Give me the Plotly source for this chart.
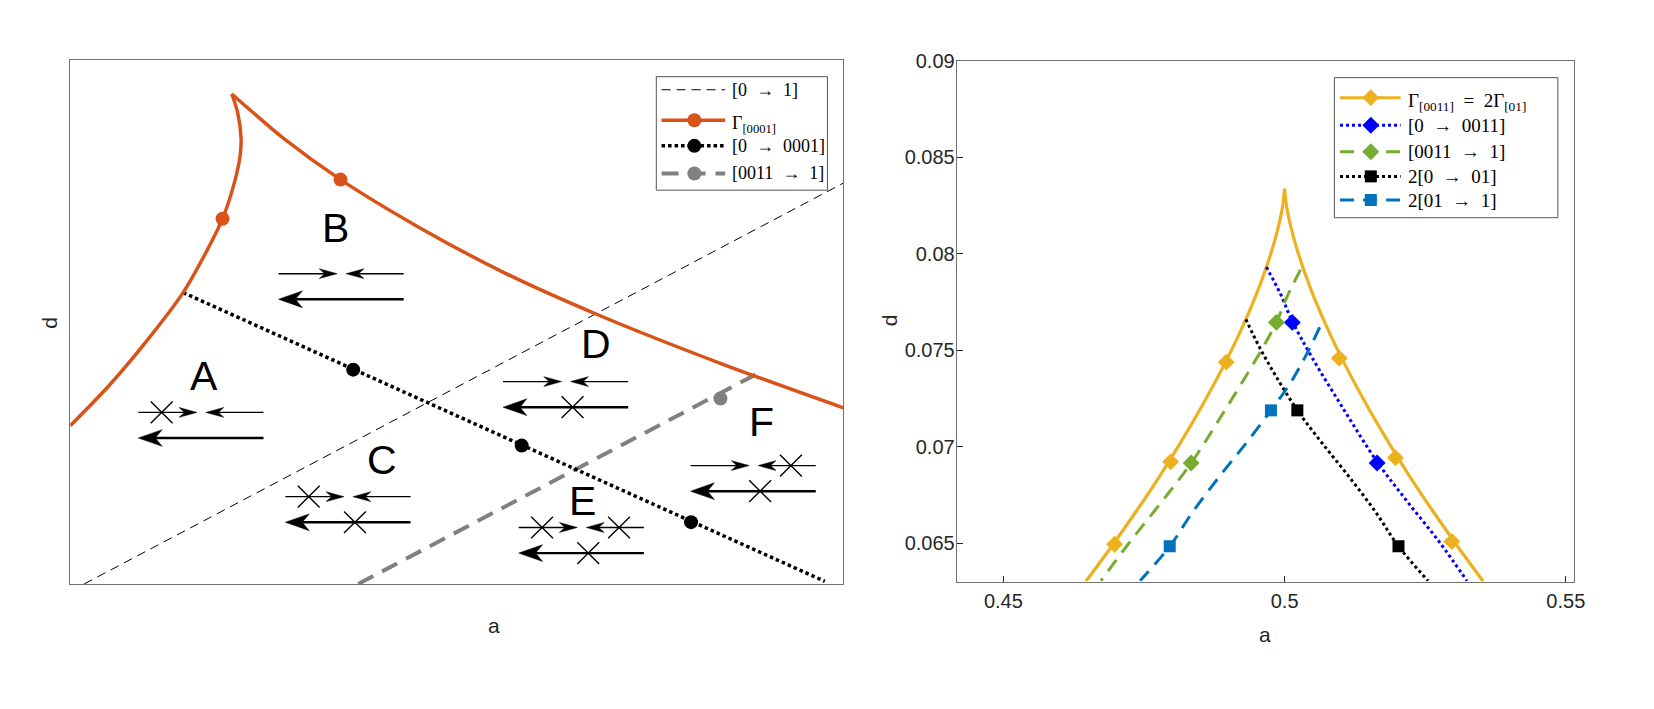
import plotly.graph_objects as go

W, H = 1654, 709

# ---------------- Left panel (schematic, unitless a-d plane) ----------------
gamma0001_left_a = [0.000, 0.050, 0.100, 0.146, 0.175, 0.197, 0.212, 0.2195, 0.221, 0.2165, 0.209]
gamma0001_left_d = [0.302, 0.3783, 0.4658, 0.556, 0.631, 0.697, 0.764, 0.815, 0.850, 0.900, 0.935]
gamma0001_right_a = [0.209, 0.2345, 0.2751, 0.3496, 0.4513, 0.5597, 0.6816, 0.8443, 1.000]
gamma0001_right_d = [0.935, 0.902, 0.8512, 0.7716, 0.6804, 0.5952, 0.5142, 0.4191, 0.336]
gamma0001_mark_a = [0.197, 0.3496]
gamma0001_mark_d = [0.697, 0.7716]

het_0_1_a = [0.018, 1.000]
het_0_1_d = [0.000, 0.765]

het_0_0001_a = [0.146, 0.976]
het_0_0001_d = [0.556, 0.005]
het_0_0001_mark_a = [0.366, 0.584, 0.803]
het_0_0001_mark_d = [0.409, 0.264, 0.118]

het_0011_1_a = [0.3725, 0.887]
het_0011_1_d = [0.000, 0.400]
het_0011_1_mark_a = [0.841]
het_0011_1_mark_d = [0.354]

region_names = ["A", "B", "C", "D", "E", "F"]
region_label_a = [0.171, 0.3402, 0.401, 0.6775, 0.660, 0.891]
region_label_d = [0.3876, 0.6693, 0.2278, 0.4479, 0.1494, 0.2989]
region_diag_a = [0.0881, 0.2694, 0.2783, 0.5598, 0.5801, 0.8024]
region_diag_d = [0.3274, 0.5921, 0.1666, 0.3862, 0.1078, 0.2259]
cross_top_left = [1, 0, 1, 0, 1, 0]
cross_top_right = [0, 0, 0, 0, 1, 1]
cross_bottom = [0, 0, 1, 1, 1, 1]

left_legend_labels = ["[0\u2002→\u20021]", "Γ<sub>[0001]</sub>", "[0\u2002→\u20020001]",
                      "[0011\u2002→\u20021]"]

# ---------------- Right panel ----------------
g0011_left_a = [0.46470, 0.46911, 0.47353, 0.47794, 0.48235, 0.48588, 0.48941, 0.49206,
                0.49471, 0.49647, 0.49788, 0.49894, 0.49965, 0.50000]
g0011_left_d = [0.06302, 0.06477, 0.06661, 0.06854, 0.07062, 0.07240, 0.07433, 0.07592,
                0.07770, 0.07906, 0.08032, 0.08146, 0.08246, 0.08338]
g0011_right_a = [0.50000, 0.50035, 0.50106, 0.50212, 0.50353, 0.50529, 0.50794, 0.51059,
                 0.51412, 0.51765, 0.52206, 0.52647, 0.53089, 0.53530]
g0011_right_d = [0.08338, 0.08246, 0.08146, 0.08032, 0.07906, 0.07770, 0.07592, 0.07433,
                 0.07240, 0.07062, 0.06854, 0.06661, 0.06477, 0.06302]
g0011_mark_a = [0.46977, 0.47974, 0.48962, 0.50972, 0.51970, 0.52974]
g0011_mark_d = [0.06494, 0.06921, 0.07438, 0.07458, 0.06942, 0.06508]

h_0_0011_a = [0.49675, 0.49919, 0.50137, 0.50486, 0.51053, 0.51645, 0.52187, 0.52755, 0.53241]
h_0_0011_d = [0.07931, 0.07796, 0.07650, 0.07463, 0.07192, 0.06921, 0.06713, 0.06504, 0.06304]
h_0_0011_mark_a = [0.50137, 0.51645]
h_0_0011_mark_d = [0.07644, 0.06915]

h_0011_1_a = [0.50283, 0.50040, 0.49854, 0.49513, 0.48946, 0.48338, 0.47812, 0.47245, 0.46734]
h_0011_1_d = [0.07917, 0.07775, 0.07644, 0.07463, 0.07192, 0.06915, 0.06713, 0.06504, 0.06304]
h_0011_1_mark_a = [0.49854, 0.48338]
h_0011_1_mark_d = [0.07644, 0.06915]

h2_0_01_a = [0.49311, 0.49554, 0.49838, 0.50227, 0.50648, 0.51134, 0.51620, 0.52025, 0.52552]
h2_0_01_d = [0.07660, 0.07515, 0.07369, 0.07188, 0.07025, 0.06848, 0.06660, 0.06483, 0.06304]
h2_0_01_mark_a = [0.50227, 0.52025]
h2_0_01_mark_d = [0.07188, 0.06483]

h2_01_1_a = [0.50624, 0.50380, 0.50097, 0.49757, 0.49335, 0.48849, 0.48363, 0.47958, 0.47431]
h2_01_1_d = [0.07619, 0.07473, 0.07327, 0.07188, 0.07025, 0.06848, 0.06660, 0.06483, 0.06304]
h2_01_1_mark_a = [0.49757, 0.47958]
h2_01_1_mark_d = [0.07188, 0.06483]

right_x_ticks = [0.45, 0.50, 0.55]
right_x_ticktext = ["0.45", "0.5", "0.55"]
right_y_ticks = [0.065, 0.070, 0.075, 0.080, 0.085, 0.090]
right_y_ticktext = ["0.065", "0.07", "0.075", "0.08", "0.085", "0.09"]
right_legend_labels = ["Γ<sub>[0011]</sub>\u2002=\u20022Γ<sub>[01]</sub>", "[0\u2002→\u20020011]",
                       "[0011\u2002→\u20021]", "2[0\u2002→\u200201]", "2[01\u2002→\u20021]"]

# ---------------- colours / styles ----------------
ORANGE = "#D95319"
YELLOW = "#EDB120"
BLUE = "#0000FF"
GREEN = "#77AC30"
LBLUE = "#0072BD"
GRAY = "#808080"
BLACK = "#000000"
AXC = "#707070"
TXT = "#262626"
SANS = "Liberation Sans, Arial, sans-serif"
SERIF = "Liberation Serif, Times New Roman, serif"

XD_L = [70.7 / W, 849.0 / W]
YD_L = [1 - 582.0 / H, 1 - 49.7 / H]
XR_L = [0.0, 1.0]
YR_L = [0.0, 1.0]
XD_R = [963.1 / W, 1584.8 / W]
YD_R = [1 - 579.6 / H, 1 - 50.7 / H]
XR_R = [0.4417, 0.5515]
YR_R = [0.0630, 0.0900]

fig = go.Figure()

def add(x, y, xa="x", ya="y", **kw):
    fig.add_trace(go.Scatter(x=x, y=y, xaxis=xa, yaxis=ya, showlegend=False,
                             hoverinfo="skip", **kw))

# ---- left panel curves ----
add(het_0_1_a, het_0_1_d, mode="lines", line=dict(color=BLACK, width=1, dash="9px,6px"))
add(het_0011_1_a, het_0011_1_d, mode="lines", line=dict(color=GRAY, width=4, dash="17px,10px"))
add(het_0011_1_mark_a, het_0011_1_mark_d, mode="markers", marker=dict(color=GRAY, size=14))
add(het_0_0001_a, het_0_0001_d, mode="lines", line=dict(color=BLACK, width=3.5, dash="3.5px,3px"))
add(het_0_0001_mark_a, het_0_0001_mark_d, mode="markers", marker=dict(color=BLACK, size=14))
add(gamma0001_left_a, gamma0001_left_d, mode="lines",
    line=dict(color=ORANGE, width=3.5, shape="spline", smoothing=0.8))
add(gamma0001_right_a, gamma0001_right_d, mode="lines",
    line=dict(color=ORANGE, width=3.5, shape="spline", smoothing=0.8))
add(gamma0001_mark_a, gamma0001_mark_d, mode="markers", marker=dict(color=ORANGE, size=14))

# ---- phase-portrait glyphs for the regions (built from region anchors) ----
PX_U = (XD_L[1] - XD_L[0]) * W / (XR_L[1] - XR_L[0])
PX_V = (YD_L[1] - YD_L[0]) * H / (YR_L[1] - YR_L[0])
DIAG_W, TIP_R, TIP_L, ROW_GAP = 126.0, 59.0, 68.0, 26.0
X_TL, X_TR, X_B, X_HALF = 23.5, 101.0, 70.0, 11.0
SH_L, SH_W, SH_N = 18.0, 5.0, 5.5
BH_L, BH_W, BH_N = 24.0, 8.5, 7.0

thin_x, thin_y, thick_x, thick_y = [], [], [], []
cross_x, cross_y, head_x, head_y = [], [], [], []

def P(u0, v0, dx, dy):
    return u0 + dx / PX_U, v0 - dy / PX_V

def seg(lx, ly, u0, v0, x1, y1, x2, y2):
    a, b = P(u0, v0, x1, y1)
    c, d = P(u0, v0, x2, y2)
    lx += [a, c, None]
    ly += [b, d, None]

def head(u0, v0, tx, ty, direction, L, HW, N):
    pts = [(tx, ty), (tx - direction * L, ty - HW), (tx - direction * (L - N), ty),
           (tx - direction * L, ty + HW), (tx, ty)]
    for (px, py) in pts:
        a, b = P(u0, v0, px, py)
        head_x.append(a)
        head_y.append(b)
    head_x.append(None)
    head_y.append(None)

def cross(u0, v0, cx, cy):
    seg(cross_x, cross_y, u0, v0, cx - X_HALF, cy - X_HALF, cx + X_HALF, cy + X_HALF)
    seg(cross_x, cross_y, u0, v0, cx - X_HALF, cy + X_HALF, cx + X_HALF, cy - X_HALF)

for i in range(len(region_names)):
    u0, v0 = region_diag_a[i], region_diag_d[i]
    seg(thin_x, thin_y, u0, v0, 0, 0, TIP_R - (SH_L - SH_N), 0)
    head(u0, v0, TIP_R, 0, 1, SH_L, SH_W, SH_N)
    seg(thin_x, thin_y, u0, v0, DIAG_W, 0, TIP_L + (SH_L - SH_N), 0)
    head(u0, v0, TIP_L, 0, -1, SH_L, SH_W, SH_N)
    seg(thick_x, thick_y, u0, v0, DIAG_W, ROW_GAP, BH_L - BH_N, ROW_GAP)
    head(u0, v0, 0, ROW_GAP, -1, BH_L, BH_W, BH_N)
    if cross_top_left[i]:
        cross(u0, v0, X_TL, 0)
    if cross_top_right[i]:
        cross(u0, v0, X_TR, 0)
    if cross_bottom[i]:
        cross(u0, v0, X_B, ROW_GAP)

add(thin_x, thin_y, mode="lines", line=dict(color=BLACK, width=1.4))
add(thick_x, thick_y, mode="lines", line=dict(color=BLACK, width=2.4))
add(cross_x, cross_y, mode="lines", line=dict(color=BLACK, width=1.4))
add(head_x, head_y, mode="lines", fill="toself", fillcolor=BLACK, line=dict(color=BLACK, width=0.5))

# ---- right panel curves ----
RA, RY = "x2", "y2"
add(g0011_left_a, g0011_left_d, RA, RY, mode="lines",
    line=dict(color=YELLOW, width=3.2, shape="spline", smoothing=0.6))
add(g0011_right_a, g0011_right_d, RA, RY, mode="lines",
    line=dict(color=YELLOW, width=3.2, shape="spline", smoothing=0.6))
add(h_0_0011_a, h_0_0011_d, RA, RY, mode="lines",
    line=dict(color=BLUE, width=3, dash="3px,3px", shape="spline"))
add(h_0011_1_a, h_0011_1_d, RA, RY, mode="lines",
    line=dict(color=GREEN, width=3, dash="14px,9px", shape="spline"))
add(h2_0_01_a, h2_0_01_d, RA, RY, mode="lines",
    line=dict(color=BLACK, width=3, dash="3px,3px", shape="spline"))
add(h2_01_1_a, h2_01_1_d, RA, RY, mode="lines",
    line=dict(color=LBLUE, width=3, dash="14px,9px", shape="spline"))
add(g0011_mark_a, g0011_mark_d, RA, RY, mode="markers",
    marker=dict(color=YELLOW, size=13, symbol="diamond"))
add(h_0_0011_mark_a, h_0_0011_mark_d, RA, RY, mode="markers",
    marker=dict(color=BLUE, size=13, symbol="diamond"))
add(h_0011_1_mark_a, h_0011_1_mark_d, RA, RY, mode="markers",
    marker=dict(color=GREEN, size=13, symbol="diamond"))
add(h2_0_01_mark_a, h2_0_01_mark_d, RA, RY, mode="markers",
    marker=dict(color=BLACK, size=12, symbol="square"))
add(h2_01_1_mark_a, h2_01_1_mark_d, RA, RY, mode="markers",
    marker=dict(color=LBLUE, size=12, symbol="square"))

# ---- hand-drawn legends on a pixel overlay axis ----
OA, OY = "x3", "y3"

def legend_box(x0, y0, x1, y1):
    add([x0, x1, x1, x0, x0], [y0, y0, y1, y1, y0], OA, OY, mode="lines", fill="toself",
        fillcolor="white", line=dict(color="#555555", width=1))

annotations = []

def legend_entry(lx0, lx1, mx, y, tx, text, lcolor, lwidth, dash, mcolor, msym, msize, size, dy=0):
    add([lx0, lx1], [y, y], OA, OY, mode="lines", line=dict(color=lcolor, width=lwidth, dash=dash))
    if mcolor is not None:
        add([mx], [y], OA, OY, mode="markers", marker=dict(color=mcolor, size=msize, symbol=msym))
    annotations.append(dict(x=tx, y=y + dy, xref=OA, yref=OY, text=text, showarrow=False,
                            xanchor="left", yanchor="middle",
                            font=dict(family=SERIF, size=size, color=BLACK)))

legend_box(660.7, 66.7, 833.0, 182.0)
left_styles = [
    (BLACK, 1, "9px,6px", None, "circle", 14),
    (ORANGE, 3.5, "solid", ORANGE, "circle", 14),
    (BLACK, 3.5, "3.5px,3px", BLACK, "circle", 14),
    (GRAY, 4, "17px,10px", GRAY, "circle", 14),
]
left_rows = [80, 111, 137, 165]
for lab, (lc, lw, ds, mc, ms, msz), yy in zip(left_legend_labels, left_styles, left_rows):
    legend_entry(666, 730, 699, yy, 735, lab, lc, lw, ds, mc, ms, msz, 18,
                 dy=4 if "<sub>" in lab else 0)

legend_box(1343.3, 67.7, 1568.3, 210.0)
right_styles = [
    (YELLOW, 3, "solid", YELLOW, "diamond", 13),
    (BLUE, 3, "3px,3px", BLUE, "diamond", 13),
    (GREEN, 3, "14px,9px", GREEN, "diamond", 13),
    (BLACK, 3, "3px,3px", BLACK, "square", 12),
    (LBLUE, 3, "14px,9px", LBLUE, "square", 12),
]
right_rows = [88, 116, 143, 168, 192]
for lab, (lc, lw, ds, mc, ms, msz), yy in zip(right_legend_labels, right_styles, right_rows):
    legend_entry(1349, 1410, 1380, yy, 1415, lab, lc, lw, ds, mc, ms, msz, 19,
                 dy=4 if "<sub>" in lab else 0)

# region letters
for name, la, ld in zip(region_names, region_label_a, region_label_d):
    annotations.append(dict(x=la, y=ld, xref="x", yref="y", text=name, showarrow=False,
                            xanchor="center", yanchor="middle", xshift=2, yshift=5,
                            font=dict(family=SANS, size=41, color=BLACK)))

# axis titles
for (x, y, t, ang) in [(497, 624, "a", 0), (49, 317, "d", -90), (1273, 633, "a", 0), (895, 314, "d", -90)]:
    annotations.append(dict(x=x, y=y, xref=OA, yref=OY, text=t, showarrow=False,
                            xanchor="center", yanchor="middle", textangle=ang,
                            font=dict(family=SANS, size=21, color=TXT)))

frame = dict(showline=True, linecolor=AXC, linewidth=1, mirror=True, showgrid=False, zeroline=False)

fig.update_layout(
    width=W, height=H, margin=dict(l=0, r=0, t=0, b=0),
    paper_bgcolor="white", plot_bgcolor="rgba(0,0,0,0)",
    showlegend=False, annotations=annotations,
    xaxis=dict(domain=XD_L, range=XR_L, anchor="y", showticklabels=False, ticks="", **frame),
    yaxis=dict(domain=YD_L, range=YR_L, anchor="x", showticklabels=False, ticks="", **frame),
    xaxis2=dict(domain=XD_R, range=XR_R, anchor="y2", tickvals=right_x_ticks,
                ticktext=right_x_ticktext, ticks="inside", ticklen=6, tickcolor=TXT,
                tickfont=dict(family=SANS, size=20, color=TXT), ticklabelstandoff=1, **frame),
    yaxis2=dict(domain=YD_R, range=YR_R, anchor="x2", tickvals=right_y_ticks,
                ticktext=right_y_ticktext, ticks="inside", ticklen=6, tickcolor=TXT,
                tickfont=dict(family=SANS, size=20, color=TXT), ticklabelstandoff=-3, **frame),
    xaxis3=dict(domain=[0, 1], range=[0, W], anchor="y3", visible=False, fixedrange=True),
    yaxis3=dict(domain=[0, 1], range=[H, 0], anchor="x3", visible=False, fixedrange=True),
)

fig.write_html("out.html")
